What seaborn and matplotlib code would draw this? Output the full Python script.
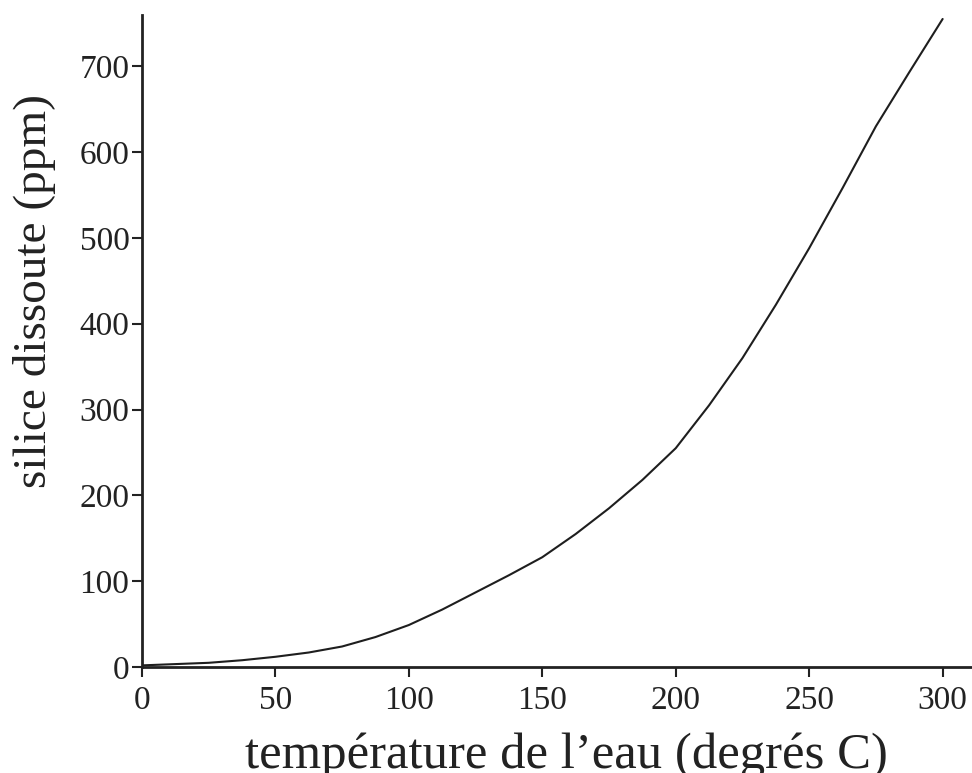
import numpy as np
import pandas as pd
import matplotlib
matplotlib.use("Agg")
import matplotlib.pyplot as plt
import seaborn as sns

# values
temperature = [0, 12.5, 25, 37.5, 50, 62.5, 75, 87.5, 100, 112.5, 125, 137.5,
               150, 162.5, 175, 187.5, 200, 212.5, 225, 237.5, 250, 262.5,
               275, 287.5, 300]
silica = [2, 3.5, 5, 8, 12, 17, 24, 35, 49, 67, 87, 107,
          128, 155, 185, 218, 255, 305, 360, 422, 488, 558,
          630, 693, 755]

xTicks = [0, 50, 100, 150, 200, 250, 300]
yTicks = [0, 100, 200, 300, 400, 500, 600, 700]

sns.set_style("ticks")
plt.rcParams["font.family"] = ["Liberation Serif", "DejaVu Serif"]

df = pd.DataFrame({"temperature": temperature, "silica": silica})

fig = plt.figure(figsize=(9.72, 7.73), dpi=100, facecolor="white")
ax = fig.add_axes([0.146, 0.137, 0.854, 0.844])

sns.lineplot(data=df, x="temperature", y="silica", ax=ax,
             color="#1e1e1e", linewidth=1.5)

ax.set_xlim(0, 311)
ax.set_ylim(0, 760)
ax.set_xticks(xTicks)
ax.set_yticks(yTicks)

sns.despine(ax=ax)
for side in ("left", "bottom"):
    ax.spines[side].set_linewidth(2)
    ax.spines[side].set_color("#222222")

ax.tick_params(axis="both", labelsize=24, length=7, width=1.5,
               color="#222222", labelcolor="#222222")
ax.tick_params(axis="x", pad=6)
ax.tick_params(axis="y", pad=2)

ax.set_xlabel("température de l’eau (degrés C)", fontsize=36.5, color="#222222")
ax.set_ylabel("silice dissoute (ppm)", fontsize=34, color="#222222")
ax.xaxis.set_label_coords(0.511, -0.101)
ax.yaxis.set_label_coords(-0.104, 0.577)

fig.savefig("out.png", dpi=100, facecolor="white")
plt.close(fig)
